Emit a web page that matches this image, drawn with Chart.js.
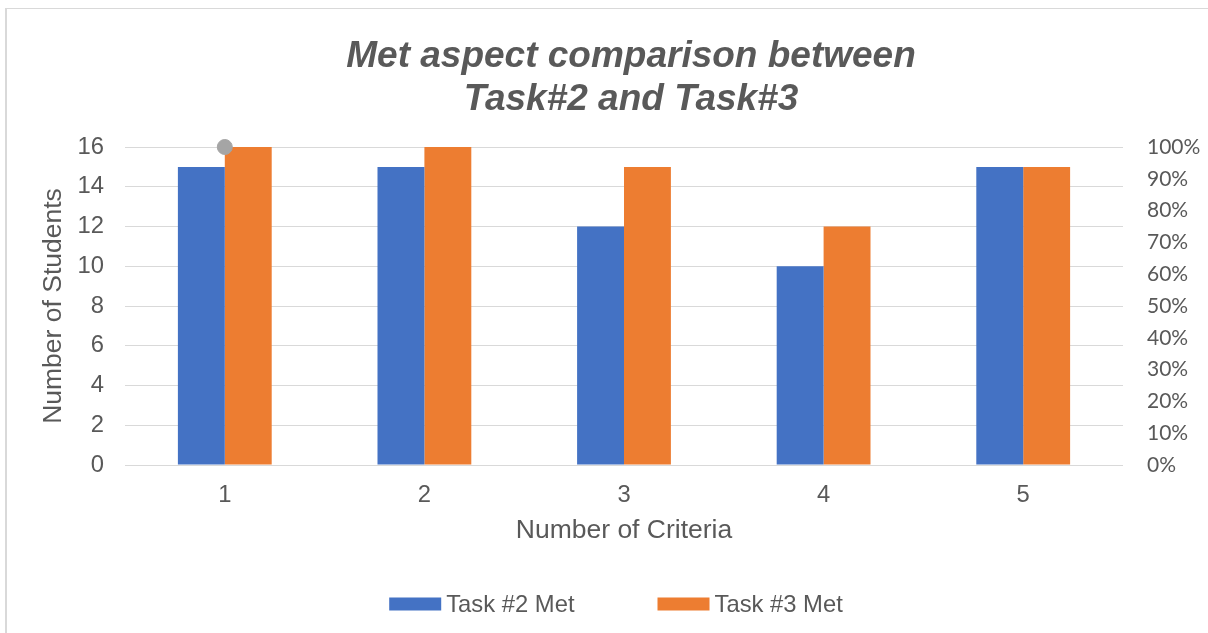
<!DOCTYPE html>
<html>
<head>
<meta charset="utf-8">
<script src="https://cdn.jsdelivr.net/npm/chart.js@4/dist/chart.umd.min.js"></script>
<style>
  html, body { margin: 0; padding: 0; background: #ffffff; overflow: hidden; }
  #frame { position: absolute; left: 5px; top: 8px; width: 1220px; height: 700px;
           border-left: 2px solid #d9d9d9; border-top: 1px solid #d9d9d9; }
  #wrap { position: absolute; left: 0; top: 0; width: 1208px; height: 633px; }
</style>
</head>
<body>
<div id="frame"></div>
<div id="wrap"><canvas id="c" width="1208" height="633"></canvas></div>
<script>
// ---- data ----
const titleLines = ['Met aspect comparison between', 'Task#2 and Task#3'];
const categories = ['1', '2', '3', '4', '5'];
const task2Met = [15, 15, 12, 10, 15];
const task3Met = [16, 16, 15, 12, 15];
const markerPct = [1.0, null, null, null, null];
const seriesNames = ['Task #2 Met', 'Task #3 Met'];
const xTitle = 'Number of Criteria';
const yTitle = 'Number of Students';

const GREY = '#595959';
const ARIAL = '"Liberation Sans", Arial, sans-serif';

const titleShift = {
  id: 'titleShift',
  afterLayout(chart) {
    if (chart.titleBlock) { chart.titleBlock.left += 14; }
  }
};

const legendPlugin = {
  id: 'customLegend',
  afterDraw(chart) {
    const ctx = chart.ctx;
    const items = chart.data.datasets.filter(d => d.type !== 'line');
    const boxW = 52, boxH = 13, gap = 5, spacing = 83;
    ctx.save();
    ctx.font = '23.8px ' + ARIAL;
    ctx.textBaseline = 'middle';
    let total = 0;
    items.forEach((d, i) => {
      total += boxW + gap + ctx.measureText(d.label).width;
      if (i < items.length - 1) total += spacing;
    });
    let x = 616 - total / 2;
    const y = 604;
    items.forEach(d => {
      ctx.fillStyle = d.backgroundColor;
      ctx.fillRect(x, y - boxH / 2, boxW, boxH);
      x += boxW + gap;
      ctx.fillStyle = GREY;
      ctx.fillText(d.label, x, y + 1);
      x += ctx.measureText(d.label).width + spacing;
    });
    ctx.restore();
  }
};

new Chart(document.getElementById('c'), {
  type: 'bar',
  data: {
    labels: categories,
    datasets: [
      { label: seriesNames[0], data: task2Met, backgroundColor: '#4472C4', yAxisID: 'y',
        categoryPercentage: 0.47, barPercentage: 1.0, order: 5 },
      { label: seriesNames[1], data: task3Met, backgroundColor: '#ED7D31', yAxisID: 'y',
        categoryPercentage: 0.47, barPercentage: 1.0, order: 5 },
      { type: 'line', label: 'marker', data: markerPct, yAxisID: 'y1', showLine: false,
        clip: false,
        pointRadius: 7.5, pointHoverRadius: 7.5, pointBackgroundColor: '#A5A5A5',
        pointBorderColor: '#A5A5A5', pointBorderWidth: 1, order: 0 }
    ]
  },
  options: {
    responsive: false,
    animation: false,
    layout: { padding: { left: 0, right: 0, top: 0, bottom: 83 } },
    plugins: {
      legend: { display: false },
      tooltip: { enabled: false },
      title: {
        display: true,
        text: titleLines,
        fullSize: false,
        color: GREY,
        font: { family: ARIAL, size: 37, weight: 'bold', style: 'italic', lineHeight: '43px' },
        padding: { top: 35, bottom: 26 }
      }
    },
    scales: {
      x: {
        grid: { display: false },
        border: { display: false },
        ticks: { color: GREY, font: { family: ARIAL, size: 23.8 }, padding: 8 },
        title: { display: true, text: xTitle, color: GREY,
                 font: { family: ARIAL, size: 26.5 }, padding: { top: 0, bottom: 3 } },
        afterFit(s) { s.height = 85; }
      },
      y: {
        position: 'left',
        min: 0, max: 16,
        ticks: { stepSize: 2, color: GREY, font: { family: ARIAL, size: 23.8 }, padding: 21 },
        grid: { color: '#d9d9d9', lineWidth: 1, drawTicks: false },
        border: { display: false },
        title: { display: true, text: yTitle, color: GREY,
                 font: { family: ARIAL, size: 26.5 }, padding: { top: 38, bottom: 0 } },
        afterFit(s) { s.width = 125; }
      },
      y1: {
        position: 'right',
        min: 0, max: 1,
        ticks: { stepSize: 0.1, color: GREY, font: { family: 'Lato, "Open Sans", sans-serif', size: 21 },
                 padding: 24, callback: v => Math.round(v * 100) + '%' },
        grid: { display: false, drawTicks: false },
        border: { display: false },
        afterFit(s) { s.width = 85; }
      }
    }
  },
  plugins: [titleShift, legendPlugin]
});
</script>
</body>
</html>
